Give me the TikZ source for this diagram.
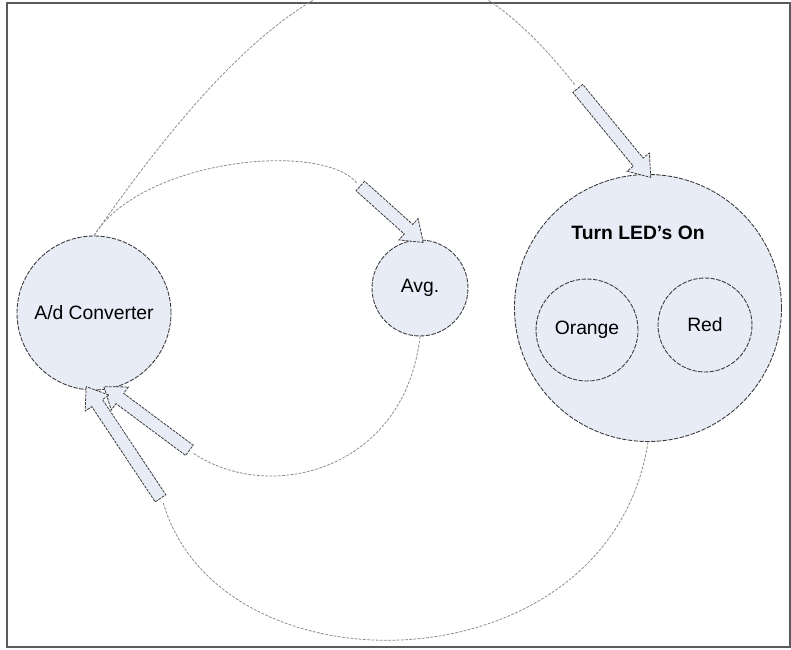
\documentclass[tikz,border=0pt]{standalone}
\usepackage{fontspec}
\setmainfont{Liberation Sans}
\usepackage{tikz}
\usetikzlibrary{shapes.arrows, positioning, calc}
\definecolor{nodefill}{HTML}{E8ECF6}
\definecolor{outline}{HTML}{3A3A3A}
\definecolor{wire}{HTML}{8C8C8C}
\definecolor{framegray}{HTML}{5A5A5A}

\begin{document}
\begin{tikzpicture}[
    x=0.2mm, y=-0.2mm,
    font=\fontsize{11}{13}\selectfont,
    state/.style={circle, draw=outline, fill=nodefill, line width=0.5pt, dash pattern=on 2.5pt off 0.8pt, inner sep=0pt, align=center},
    wirepath/.style={draw=wire, line width=0.45pt, dash pattern=on 1.6pt off 0.8pt},
    blockarrow/.style={single arrow, draw=outline, fill=nodefill, line width=0.45pt, dash pattern=on 1.6pt off 0.6pt, inner xsep=0pt, inner ysep=1.2mm, single arrow head extend=1.6mm, single arrow tip angle=72, sloped, allow upside down, midway},
    framebox/.style={draw=framegray, line width=0.4mm}
]
    \useasboundingbox (0,0) rectangle (791,649);
    \draw[framebox] (7,3) rectangle (790,647);

    % states
    \node[state, minimum size=30.8mm] (adc) at (94,313) {A/d Converter};
    \node[state, minimum size=19.2mm] (avg) at (420,288) {Avg.};
    \node[state, minimum size=53.4mm] (led) at (648,308) {};
    \node[font=\fontsize{11}{13}\selectfont\bfseries] (ledtitle) at ($(led.center)+(-10,-75)$) {Turn LED's On};
    \node[state, minimum size=20.4mm] (orange) at (587,330) {Orange};
    \node[state, minimum size=18.8mm] (red) at (705,325) {Red};

    % tails of the block arrows
    \coordinate (tavg) at (357,183);
    \coordinate (tled) at (575,85);
    \coordinate (tloop) at (193,453);
    \coordinate (tback) at (163,502);

    % connectors
    \draw[wirepath] (adc.north) .. controls (320,-90) and (445,-80) .. (tled);
    \draw[wirepath] (adc.north) .. controls (140,160) and (320,140) .. (tavg);
    \draw[wirepath] (avg.south) .. controls (405,470) and (270,505) .. (tloop);
    \draw[wirepath] (led.south) .. controls (610,690) and (220,700) .. (tback);

    \foreach \src/\dst in {tavg/avg.north, tled/led.north, tloop/adc.-80, tback/adc.-94}{
        \path let \p1=($(\dst)-(\src)$), \n1={veclen(\x1,\y1)} in
            (\src) -- (\dst) node[blockarrow, minimum height=\n1] {};
    }
\end{tikzpicture}
\end{document}
